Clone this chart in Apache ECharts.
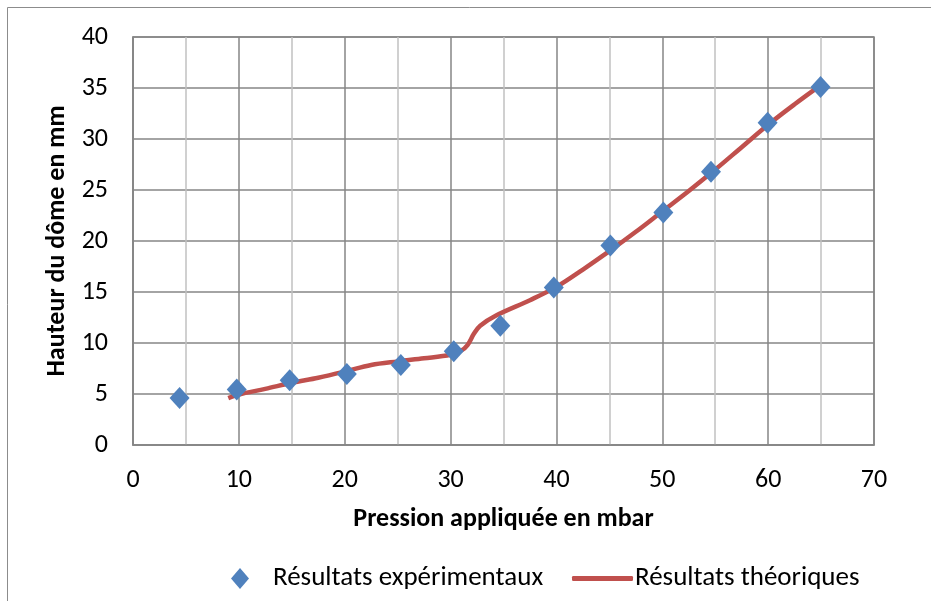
<!DOCTYPE html>
<html>
<head>
<meta charset="utf-8">
<script src="https://cdn.jsdelivr.net/npm/echarts@6/dist/echarts.min.js"></script>
<style>
html,body{margin:0;padding:0;background:#fff;}
#chart{width:931px;height:601px;}
</style>
</head>
<body>
<div id="chart"></div>
<script>
// Experimental results: [pressure mbar, dome height mm]
const experimental = [
  [4.4, 4.6], [9.8, 5.45], [14.8, 6.35], [20.2, 6.95], [25.3, 7.85],
  [30.3, 9.2], [34.7, 11.7], [39.75, 15.45], [45.1, 19.55], [50.1, 22.8],
  [54.6, 26.8], [59.95, 31.6], [64.95, 35.1]
];
// Theoretical results (smooth curve)
const theoretical = [
  [9.0, 4.6], [10, 4.95], [12.5, 5.5], [15, 6.1], [17.5, 6.6], [20, 7.2],
  [22.5, 7.85], [25, 8.2], [27.5, 8.5], [30, 8.85], [31, 9.25], [31.6, 9.8],
  [32.2, 10.9], [32.8, 11.7], [34.3, 12.7], [37.5, 14.2], [40, 15.5],
  [42.5, 17.2], [45, 19.0], [47.5, 20.9], [50, 22.9], [52.5, 24.9],
  [55, 27.0], [57.5, 29.2], [60, 31.4], [62.5, 33.4], [65, 35.3]
];
const seriesNames = ['Résultats expérimentaux', 'Résultats théoriques'];
const xTitle = 'Pression appliquée en mbar';
const yTitle = 'Hauteur du dôme en mm';

const FONT = 'Carlito, Calibri, "Liberation Sans Narrow", "Open Sans", sans-serif';
const chart = echarts.init(document.getElementById('chart'), null, {renderer: 'canvas'});
chart.setOption({
  animation: false,
  backgroundColor: '#fff',
  graphic: [{
    type: 'rect', shape: {x: 7.5, y: 7.5, width: 1000, height: 1000},
    style: {fill: 'none', stroke: '#8c8c8c', lineWidth: 1}, z: -1
  }],
  grid: {left: 133, right: 57, top: 37, bottom: 156, show: true, borderColor: '#868686', borderWidth: 1.5},
  xAxis: {
    type: 'value', min: 0, max: 70, interval: 5,
    name: xTitle, nameLocation: 'middle', nameGap: 61,
    nameTextStyle: {fontFamily: FONT, fontWeight: 'bold', fontSize: 26, color: '#000'},
    axisLine: {show: true, lineStyle: {color: '#868686', width: 1.5}},
    axisTick: {show: false},
    axisLabel: {
      fontFamily: FONT, fontSize: 26, color: '#000', margin: 22,
      formatter: v => (v % 10 === 0 ? String(v) : '')
    },
    splitLine: {show: true, lineStyle: {color: ['#868686', '#c0c0c0'], width: 1.5}}
  },
  yAxis: {
    type: 'value', min: 0, max: 40, interval: 5,
    name: yTitle, nameLocation: 'middle', nameGap: 61, nameRotate: 90,
    nameTextStyle: {fontFamily: FONT, fontWeight: 'bold', fontSize: 26, color: '#000'},
    axisLine: {show: true, lineStyle: {color: '#868686', width: 1.5}},
    axisTick: {show: false},
    axisLabel: {fontFamily: FONT, fontSize: 26, color: '#000', margin: 25},
    splitLine: {show: true, lineStyle: {color: '#868686', width: 1.5}}
  },
  legend: [{
    left: 226, top: 560, itemWidth: 18, itemHeight: 21,
    data: [{name: seriesNames[0], icon: 'diamond', itemStyle: {color: '#4F81BD', opacity: 1}}],
    textStyle: {fontFamily: FONT, fontSize: 27, color: '#000', padding: [0, 0, 0, 19]}
  }, {
    left: 567, top: 560, itemWidth: 61, itemHeight: 5,
    data: [{name: seriesNames[1], icon: 'roundRect'}],
    textStyle: {fontFamily: FONT, fontSize: 27, color: '#000', padding: [0, 0, 0, -3]}
  }],
  series: [{
    name: seriesNames[1], type: 'line', data: theoretical, smooth: 0.35,
    showSymbol: false, symbol: 'none',
    lineStyle: {color: '#C0504D', width: 4.5},
    itemStyle: {color: '#C0504D'}, z: 2
  }, {
    name: seriesNames[0], type: 'scatter', data: experimental,
    symbol: 'diamond', symbolSize: [20, 22],
    itemStyle: {color: '#4F81BD', opacity: 1}, z: 3
  }]
});
</script>
</body>
</html>
